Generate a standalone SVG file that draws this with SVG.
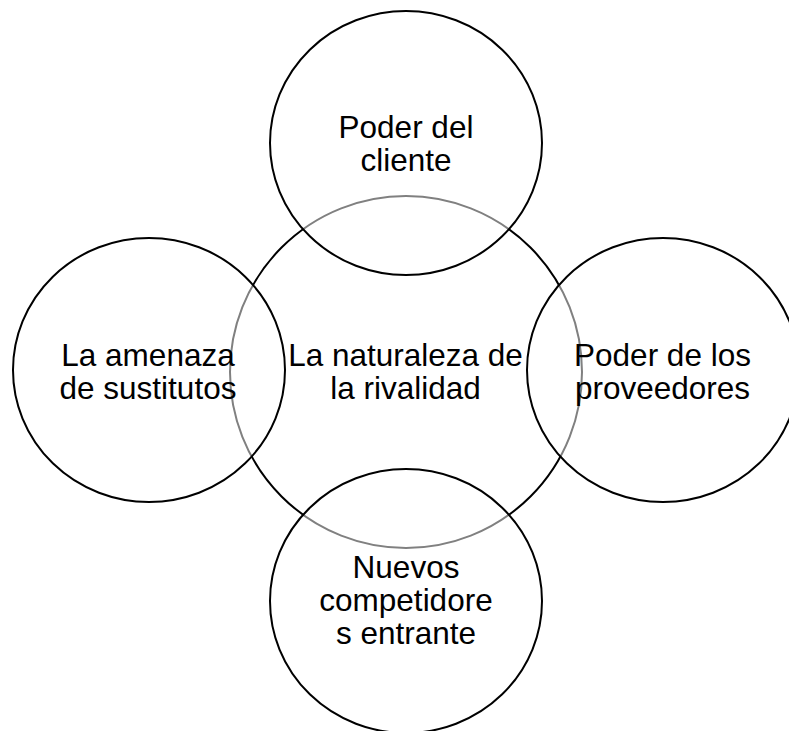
<svg xmlns="http://www.w3.org/2000/svg" width="789" height="731" viewBox="0 0 789 731">
<style>
.c{stroke:#000;stroke-width:2}
.s{fill:#fff;fill-opacity:0.5}
.t{font-family:"Liberation Sans",Arial,sans-serif;font-size:31.5px;fill:#000;text-anchor:middle}
</style>
<rect width="789" height="731" fill="#fff"/>
<g id="center"><ellipse class="c" cx="406" cy="372" rx="176" ry="176" fill="#fff"/></g>
<g id="top"><ellipse class="c s" cx="406" cy="143" rx="136" ry="132"/></g>
<g id="left"><ellipse class="c s" cx="149" cy="370" rx="136" ry="132"/></g>
<g id="right"><ellipse class="c s" cx="663" cy="370" rx="136" ry="132"/></g>
<g id="bottom"><ellipse class="c s" cx="406" cy="601" rx="136" ry="132"/></g>
<g id="labels">
<text class="t" x="406" y="137.5">Poder del</text>
<text class="t" x="406" y="170.5">cliente</text>
<text class="t" x="148" y="366">La amenaza</text>
<text class="t" x="148" y="399">de sustitutos</text>
<text class="t" x="405.5" y="366">La naturaleza de</text>
<text class="t" x="405.5" y="399">la rivalidad</text>
<text class="t" x="662.5" y="366">Poder de los</text>
<text class="t" x="662.5" y="399">proveedores</text>
<text class="t" x="406" y="578">Nuevos</text>
<text class="t" x="406" y="611">competidore</text>
<text class="t" x="406" y="644">s entrante</text>
</g>
</svg>
